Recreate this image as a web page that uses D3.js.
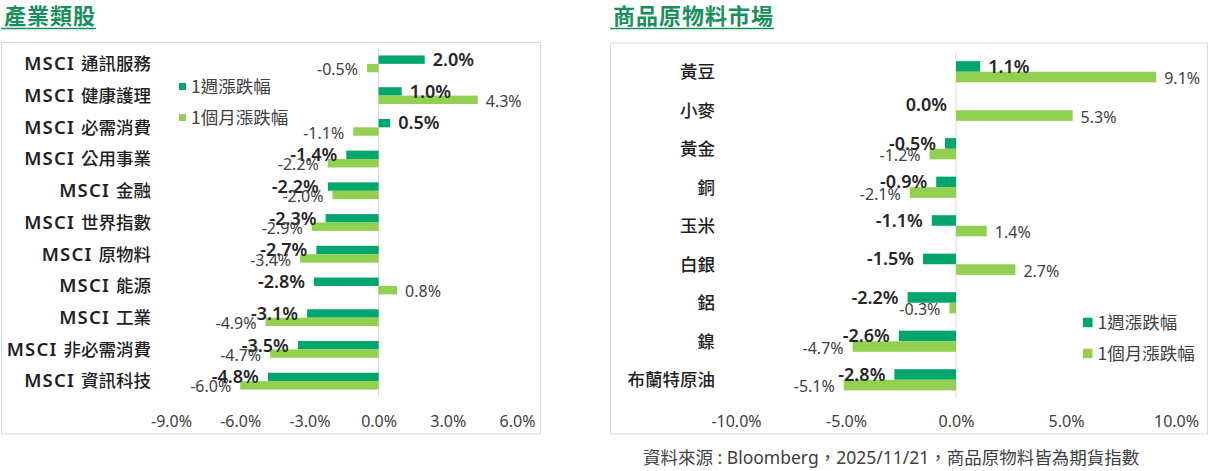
<!DOCTYPE html>
<html>
<head>
<meta charset="utf-8">
<style>
  body { margin: 0; background: #ffffff; }
  svg text { font-family: "Noto Sans", "Noto Sans CJK TC", sans-serif; }
  .frame { fill: none; stroke: #d9d9d9; stroke-width: 1; }
  .zero { stroke: #d9d9d9; stroke-width: 1; }
  .title { font-family: "Noto Sans CJK TC", sans-serif; font-size: 22px; font-weight: 700; fill: #17905c; letter-spacing: 1px; }
  .cat { font-size: 17.5px; font-weight: 500; fill: #1f1f1f; }
  .tick text { font-size: 16px; fill: #404040; }
  .wlab { font-size: 18px; font-weight: 600; fill: #262626; }
  .mlab { font-size: 16px; fill: #404040; }
  .legend text { font-family: "Noto Sans CJK TC", sans-serif; font-size: 17.5px; fill: #404040; }
  .source { font-size: 17.5px; fill: #404040; }
</style>
</head>
<body>
<script src="https://d3js.org/d3.v7.min.js"></script>

<div id="chart"></div>

<script>
// left chart: sector indices
var sectors = ["MSCI 通訊服務", "MSCI 健康護理", "MSCI 必需消費", "MSCI 公用事業", "MSCI 金融",
  "MSCI 世界指數", "MSCI 原物料", "MSCI 能源", "MSCI 工業", "MSCI 非必需消費", "MSCI 資訊科技"];
var sectorWeek = [2.0, 1.0, 0.5, -1.4, -2.2, -2.3, -2.7, -2.8, -3.1, -3.5, -4.8];
var sectorMonth = [-0.5, 4.3, -1.1, -2.2, -2.0, -2.9, -3.4, 0.8, -4.9, -4.7, -6.0];
var sectorTicks = [-9, -6, -3, 0, 3, 6];

// right chart: commodities
var commodities = ["黃豆", "小麥", "黃金", "銅", "玉米", "白銀", "鋁", "鎳", "布蘭特原油"];
var commodityWeek = [1.1, 0.0, -0.5, -0.9, -1.1, -1.5, -2.2, -2.6, -2.8];
var commodityMonth = [9.1, 5.3, -1.2, -2.1, 1.4, 2.7, -0.3, -4.7, -5.1];
var commodityTicks = [-10, -5, 0, 5, 10];

var seriesNames = ["1週漲跌幅", "1個月漲跌幅"];
var colors = ["#00a66c", "#92d050"];

var width = 1211, height = 471;

// excel style percent, plain hyphen for negatives
function pct(v) { return v.toFixed(1) + "%"; }

var svg = d3.select("#chart").append("svg")
    .attr("width", width)
    .attr("height", height);

function drawPanel(opt) {
  var g = svg.append("g");

  // title + underline
  var title = g.append("text")
      .attr("class", "title")
      .attr("x", opt.titleX)
      .attr("y", 24)
      .text(opt.title);
  var tw = title.node().getComputedTextLength();
  g.append("line")
      .attr("x1", opt.titleX - 3).attr("x2", opt.titleX + tw)
      .attr("y1", 28.5).attr("y2", 28.5)
      .attr("stroke", "#17905c").attr("stroke-width", 1.5);

  g.append("rect")
      .attr("class", "frame")
      .attr("x", opt.frame[0]).attr("y", opt.frame[1])
      .attr("width", opt.frame[2]).attr("height", opt.frame[3]);

  var x = d3.scaleLinear().domain(opt.domain).range(opt.xRange);

  var y = d3.scaleBand()
      .domain(opt.cats)
      .range(opt.yRange)
      .paddingInner(opt.pad)
      .paddingOuter(opt.pad / 2);

  var sub = d3.scaleBand()
      .domain([0, 1])
      .range([0, y.bandwidth()]);

  // axis (labels only)
  var axis = g.append("g")
      .attr("transform", "translate(0," + (opt.tickY) + ")")
      .call(d3.axisBottom(x)
        .tickValues(opt.ticks)
        .tickSize(0)
        .tickPadding(0)
        .tickFormat(pct));
  axis.select(".domain").remove();
  axis.selectAll("text").attr("dy", "0.35em").attr("y", 0);

  g.append("line")
      .attr("class", "zero")
      .attr("x1", x(0)).attr("x2", x(0))
      .attr("y1", opt.yRange[0]).attr("y2", opt.yRange[1]);

  // category labels
  var labs = g.selectAll(".cat")
      .data(opt.cats)
      .enter().append("text")
      .attr("class", "cat")
      .attr("text-anchor", "end")
      .attr("x", opt.catX)
      .attr("y", function(d) { return y(d) + y.bandwidth() / 2; })
      .attr("dy", "0.36em");
  labs.each(function(d) {
    var t = d3.select(this);
    var parts = d.split(" ");
    if (parts.length > 1) {
      t.append("tspan")
          .attr("font-size", "18.5px")
          .attr("font-weight", 600)
          .attr("letter-spacing", "1.2px")
          .text(parts[0] + " ");
      t.append("tspan").text(parts.slice(1).join(" "));
    } else {
      t.text(d);
    }
  });

  var rows = opt.cats.map(function(c, i) {
    return { cat: c, vals: [opt.week[i], opt.month[i]] };
  });

  var series = [0, 1];

  // bars
  series.forEach(function(s) {
    g.selectAll(".bar" + s)
        .data(rows)
        .enter().append("rect")
        .attr("fill", colors[s])
        .attr("x", function(d) { return x(Math.min(0, d.vals[s])); })
        .attr("y", function(d) { return y(d.cat) + sub(s); })
        .attr("width", function(d) { return Math.abs(x(d.vals[s]) - x(0)); })
        .attr("height", sub.bandwidth());
  });

  // data labels, outside end
  series.forEach(function(s) {
    g.selectAll(".lab" + s)
        .data(rows)
        .enter().append("text")
        .attr("class", s === 0 ? "wlab" : "mlab")
        .attr("text-anchor", function(d) { return d.vals[s] > 0 ? "start" : "end"; })
        .attr("x", function(d) { return x(d.vals[s]) + (d.vals[s] > 0 ? 8 : -9); })
        .attr("y", function(d) { return y(d.cat) + sub(s) + sub.bandwidth() / 2 + (s === 0 ? 0 : 1.5); })
        .attr("dy", "0.35em")
        .text(function(d) { return pct(d.vals[s]); });
  });

  // legend
  var lg = g.append("g").attr("class", "legend");
  seriesNames.forEach(function(n, i) {
    var cy = opt.legY + i * opt.legStep;
    lg.append("rect")
        .attr("x", opt.legX)
        .attr("y", cy - opt.legSq / 2)
        .attr("width", opt.legSq).attr("height", opt.legSq)
        .attr("fill", colors[i]);
    lg.append("text")
        .attr("x", opt.legX + opt.legSq + 5)
        .attr("y", cy)
        .attr("dy", "0.36em")
        .text(n);
  });
}

drawPanel({
  title: "產業類股", titleX: 4,
  frame: [1.5, 42.5, 539, 391.5],
  cats: sectors, week: sectorWeek, month: sectorMonth, ticks: sectorTicks,
  domain: [-9, 6], xRange: [171, 517],
  yRange: [48, 397], pad: 0.47,
  tickY: 421.5, catX: 151,
  legX: 179, legY: 86.5, legStep: 31, legSq: 7
});

drawPanel({
  title: "商品原物料市場", titleX: 613,
  frame: [610.5, 43, 597, 391],
  cats: commodities, week: commodityWeek, month: commodityMonth, ticks: commodityTicks,
  domain: [-10, 10], xRange: [736, 1176],
  yRange: [52.5, 399], pad: 0.45,
  tickY: 421.5, catX: 715,
  legX: 1083, legY: 322.5, legStep: 31, legSq: 9.5
});

svg.append("text")
    .attr("class", "source")
    .attr("x", 643)
    .attr("y", 458)
    .attr("dy", "0.36em")
    .text("資料來源 : Bloomberg，2025/11/21，商品原物料皆為期貨指數");
</script>

</body>
</html>
